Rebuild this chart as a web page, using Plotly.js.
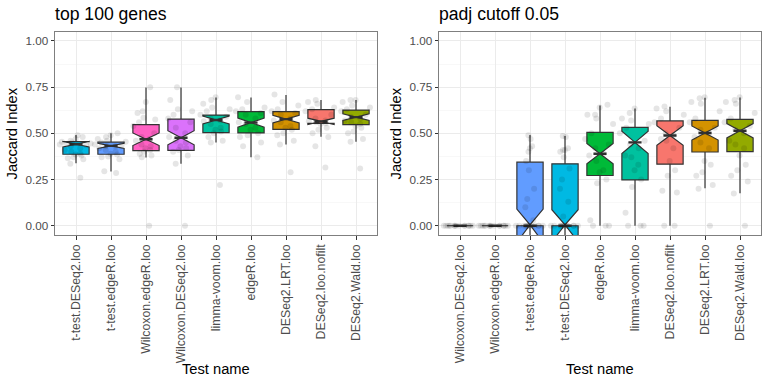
<!DOCTYPE html>
<html><head><meta charset="utf-8">
<script src="https://cdn.plot.ly/plotly-3.0.1.min.js"></script>
<style>html,body{margin:0;padding:0;background:#fff}#chart{width:768px;height:384px}</style>
</head><body><div id="chart"></div>
<script>
// ---------- data: panel 1 "top 100 genes" ----------
const catsTop = ['t-test.DESeq2.loo','t-test.edgeR.loo','Wilcoxon.edgeR.loo','Wilcoxon.DESeq2.loo','limma-voom.loo','edgeR.loo','DESeq2.LRT.loo','DESeq2.loo.nofilt','DESeq2.Wald.loo'];
const topQ1    = [0.387, 0.387, 0.407, 0.408, 0.504, 0.502, 0.522, 0.554, 0.547];
const topMed   = [0.441, 0.432, 0.468, 0.476, 0.572, 0.558, 0.577, 0.565, 0.588];
const topQ3    = [0.455, 0.452, 0.547, 0.577, 0.599, 0.617, 0.617, 0.628, 0.626];
const topLo    = [0.338, 0.293, 0.369, 0.335, 0.450, 0.371, 0.439, 0.482, 0.455];
const topHi    = [0.491, 0.500, 0.748, 0.748, 0.694, 0.694, 0.707, 0.680, 0.680];
const topNotch = [0.015, 0.014, 0.034, 0.038, 0.021, 0.025, 0.021, 0.017, 0.018];
const topPts = [
  [0.26,0.335,0.36,0.365,0.37,0.38,0.385,0.39,0.40,0.41,0.42,0.43,0.435,0.44,0.44,0.445,0.45,0.455,0.46,0.47,0.48,0.49],
  [0.285,0.295,0.36,0.37,0.375,0.385,0.39,0.40,0.41,0.42,0.43,0.43,0.435,0.44,0.45,0.455,0.46,0.47,0.48,0.49,0.50],
  [0.0,0.37,0.38,0.39,0.40,0.41,0.42,0.43,0.44,0.46,0.47,0.48,0.50,0.54,0.56,0.575,0.585,0.61,0.62,0.67,0.75],
  [0.0,0.335,0.38,0.40,0.41,0.42,0.43,0.45,0.46,0.48,0.50,0.53,0.56,0.58,0.60,0.62,0.63,0.68,0.75],
  [0.22,0.45,0.46,0.48,0.50,0.51,0.52,0.53,0.55,0.565,0.57,0.58,0.59,0.60,0.62,0.63,0.64,0.66,0.68,0.695],
  [0.37,0.43,0.45,0.48,0.49,0.50,0.52,0.53,0.55,0.56,0.58,0.60,0.61,0.62,0.63,0.64,0.67,0.695],
  [0.29,0.44,0.46,0.49,0.50,0.52,0.53,0.54,0.56,0.57,0.58,0.60,0.61,0.62,0.63,0.65,0.67,0.71],
  [0.315,0.43,0.48,0.50,0.52,0.53,0.55,0.555,0.56,0.565,0.57,0.58,0.60,0.62,0.63,0.64,0.66,0.67,0.68],
  [0.31,0.455,0.47,0.50,0.51,0.53,0.54,0.55,0.56,0.57,0.58,0.59,0.60,0.62,0.63,0.64,0.65,0.67,0.68,0.68]
];

// ---------- data: panel 2 "padj cutoff 0.05" ----------
const catsPadj = ['Wilcoxon.DESeq2.loo','Wilcoxon.edgeR.loo','t-test.edgeR.loo','t-test.DESeq2.loo','edgeR.loo','limma-voom.loo','DESeq2.loo.nofilt','DESeq2.LRT.loo','DESeq2.Wald.loo'];
const padjQ1    = [0, 0, 0, 0, 0.272, 0.248, 0.333, 0.399, 0.401];
const padjMed   = [0, 0, 0, 0, 0.390, 0.451, 0.488, 0.502, 0.514];
const padjQ3    = [0, 0, 0.344, 0.335, 0.505, 0.532, 0.567, 0.570, 0.576];
const padjLo    = [0, 0, 0, 0, 0, 0, 0, 0.203, 0.176];
const padjHi    = [0, 0, 0.491, 0.486, 0.651, 0.635, 0.644, 0.693, 0.694];
const padjNotch = [0, 0, 0.09, 0.087, 0.055, 0.06, 0.053, 0.038, 0.039];
const padjPts = [
  [0,0,0,0,0,0,0,0,0,0,0,0,0,0,0],
  [0,0,0,0,0,0,0,0,0,0,0,0,0,0,0],
  [0,0,0,0,0,0,0,0,0,0,0,0,0.03,0.10,0.145,0.20,0.30,0.35,0.40,0.42,0.43,0.47,0.49],
  [0,0,0,0,0,0,0,0,0,0,0,0.05,0.13,0.20,0.25,0.31,0.37,0.40,0.41,0.41,0.42,0.48,0.485],
  [0,0,0,0.03,0.23,0.25,0.29,0.30,0.35,0.38,0.39,0.42,0.44,0.47,0.50,0.55,0.58,0.60,0.60,0.64,0.655],
  [0,0,0,0.07,0.21,0.25,0.30,0.33,0.37,0.38,0.42,0.44,0.46,0.50,0.53,0.55,0.57,0.58,0.61,0.635],
  [0,0,0.18,0.19,0.27,0.30,0.35,0.42,0.46,0.47,0.49,0.50,0.53,0.56,0.58,0.60,0.62,0.635,0.645],
  [0,0.20,0.22,0.27,0.29,0.33,0.35,0.42,0.45,0.48,0.50,0.52,0.53,0.56,0.58,0.62,0.66,0.67,0.69,0.695],
  [0,0.175,0.24,0.27,0.30,0.33,0.38,0.42,0.44,0.46,0.50,0.52,0.54,0.56,0.58,0.61,0.66,0.67,0.68,0.695]
];

const yTicks = [0, 0.25, 0.5, 0.75, 1.0];

// ---------- styles ----------
const fillColors = {
  'DESeq2.loo.nofilt':'#F8766D','DESeq2.LRT.loo':'#D39200','DESeq2.Wald.loo':'#93AA00',
  'edgeR.loo':'#00BA38','limma-voom.loo':'#00C19F','t-test.DESeq2.loo':'#00B9E3',
  't-test.edgeR.loo':'#619CFF','Wilcoxon.DESeq2.loo':'#DB72FB','Wilcoxon.edgeR.loo':'#FF61C3'
};
const FONT = 'Liberation Sans, Arial, Helvetica, sans-serif';
const DARK = '#333333';

function panelTraces(cats, q1, med, q3, lo, hi, notch, pts, xa, ya) {
  const boxes = [], medians = [], points = [];
  cats.forEach((c, i) => {
    boxes.push({
      type:'box', xaxis:xa, yaxis:ya, x:[c], q1:[q1[i]], median:[med[i]], q3:[q3[i]],
      lowerfence:[lo[i]], upperfence:[hi[i]], notched:true, notchspan:[notch[i]], notchwidth:0.5,
      width:0.75, whiskerwidth:0, fillcolor:fillColors[c], line:{color:DARK, width:1.2},
      boxpoints:false, hoverinfo:'skip', showlegend:false
    });
    medians.push({
      type:'box', xaxis:xa, yaxis:ya, x:[c], q1:[med[i]], median:[med[i]], q3:[med[i]],
      lowerfence:[med[i]], upperfence:[med[i]], width:0.375, whiskerwidth:0,
      fillcolor:DARK, line:{color:DARK, width:2.4}, boxpoints:false, hoverinfo:'skip', showlegend:false
    });
    points.push({
      type:'box', xaxis:xa, yaxis:ya, x:pts[i].map(() => c), y:pts[i],
      width:0.95, boxpoints:'all', jitter:1, pointpos:0,
      fillcolor:'rgba(0,0,0,0)', line:{color:'rgba(0,0,0,0)', width:0},
      marker:{color:'rgba(0,0,0,0.1)', size:6, line:{width:0}},
      hoverinfo:'skip', showlegend:false
    });
  });
  return boxes.concat(medians, points);
}

const data = panelTraces(catsTop, topQ1, topMed, topQ3, topLo, topHi, topNotch, topPts, 'x', 'y')
  .concat(panelTraces(catsPadj, padjQ1, padjMed, padjQ3, padjLo, padjHi, padjNotch, padjPts, 'x2', 'y2'));

function xAxis(dom, cats, anchor) {
  return {
    domain:dom, anchor:anchor, type:'category', categoryorder:'array', categoryarray:cats,
    range:[-0.6, 8.6], showgrid:true, gridcolor:'#ebebeb', gridwidth:1,
    ticks:'outside', ticklen:3.5, tickwidth:1, tickcolor:DARK, tickangle:-90,
    tickfont:{family:FONT, size:12.3, color:'#4d4d4d'},
    showline:true, mirror:true, linecolor:'#7f7f7f', linewidth:1, zeroline:false, fixedrange:true
  };
}
function yAxis(anchor) {
  return {
    domain:[0.388, 0.9175], anchor:anchor, range:[-0.05, 1.05],
    tickvals:yTicks, ticktext:yTicks.map(v => v.toFixed(2)),
    showgrid:true, gridcolor:'#ebebeb', gridwidth:1,
    minor:{tickvals:[0.125, 0.375, 0.625, 0.875], showgrid:true, gridcolor:'#f4f4f4', gridwidth:0.6, ticks:''},
    ticks:'outside', ticklen:3.5, tickwidth:1, tickcolor:DARK,
    tickfont:{family:FONT, size:11.7, color:'#4d4d4d'},
    showline:true, mirror:true, linecolor:'#7f7f7f', linewidth:1, zeroline:false, fixedrange:true
  };
}

function ann(text, x, y, opts) {
  return Object.assign({text:text, xref:'paper', yref:'paper', x:x, y:y, showarrow:false,
    font:{family:FONT, size:14.7, color:'#000'}}, opts || {});
}

const layout = {
  width:768, height:384, margin:{l:0, r:0, t:0, b:0},
  paper_bgcolor:'#fff', plot_bgcolor:'#fff', showlegend:false, boxmode:'overlay',
  xaxis:xAxis([55/768, 377/768], catsTop, 'y'),
  yaxis:yAxis('x'),
  xaxis2:xAxis([439/768, 761/768], catsPadj, 'y2'),
  yaxis2:yAxis('x2'),
  annotations:[
    ann('top 100 genes', 53/768, 1 - 2/384, {xanchor:'left', yanchor:'top', font:{family:FONT, size:17.6, color:'#000'}}),
    ann('padj cutoff 0.05', 437/768, 1 - 2/384, {xanchor:'left', yanchor:'top', font:{family:FONT, size:17.6, color:'#000'}}),
    ann('Jaccard Index', 12/768, 1 - 133.4/384, {xanchor:'center', yanchor:'middle', textangle:-90}),
    ann('Jaccard Index', 396/768, 1 - 133.4/384, {xanchor:'center', yanchor:'middle', textangle:-90}),
    ann('Test name', 216/768, 1 - 369/384, {xanchor:'center', yanchor:'middle'}),
    ann('Test name', 600/768, 1 - 369/384, {xanchor:'center', yanchor:'middle'})
  ]
};

Plotly.newPlot('chart', data, layout, {staticPlot:true, displayModeBar:false});
</script></body></html>
